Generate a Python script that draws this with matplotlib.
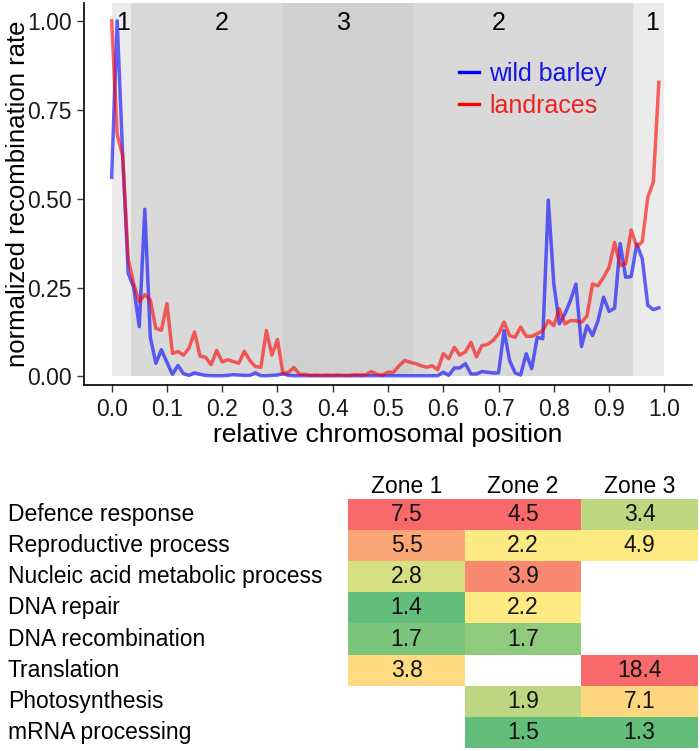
import numpy as np
import matplotlib
matplotlib.use("Agg")
import matplotlib.pyplot as plt
from matplotlib.colors import LinearSegmentedColormap, TwoSlopeNorm
from matplotlib.transforms import blended_transform_factory

plt.rcParams['font.family'] = ['Liberation Sans', 'DejaVu Sans']

# ---------------- data ----------------
position = np.arange(100) / 100.0

wild_barley = [0.56, 1.00, 0.62, 0.29, 0.25, 0.14, 0.47, 0.11, 0.037, 0.075,
               0.04, 0.006, 0.031, 0.008, 0.003, 0.01, 0.006, 0.003, 0.002, 0.002,
               0.002, 0.003, 0.005, 0.004, 0.003, 0.003, 0.01, 0.002, 0.002, 0.003,
               0.004, 0.008, 0.003, 0.002, 0.002, 0.002, 0.002, 0.002, 0.002, 0.002,
               0.002, 0.002, 0.002, 0.002, 0.002, 0.002, 0.002, 0.002, 0.002, 0.002,
               0.002, 0.002, 0.002, 0.002, 0.002, 0.002, 0.002, 0.002, 0.002, 0.002,
               0.012, 0.003, 0.024, 0.024, 0.036, 0.007, 0.007, 0.014, 0.012, 0.01,
               0.01, 0.129, 0.045, 0.01, 0.004, 0.064, 0.022, 0.11, 0.106, 0.496,
               0.26, 0.148, 0.176, 0.213, 0.26, 0.084, 0.143, 0.115, 0.157, 0.223,
               0.183, 0.192, 0.374, 0.279, 0.281, 0.372, 0.331, 0.2, 0.188, 0.193]

landraces = [1.00, 0.68, 0.62, 0.33, 0.26, 0.21, 0.23, 0.215, 0.135, 0.13,
             0.205, 0.065, 0.07, 0.06, 0.08, 0.125, 0.057, 0.054, 0.033, 0.073,
             0.041, 0.047, 0.042, 0.037, 0.071, 0.045, 0.028, 0.026, 0.129, 0.06,
             0.104, 0.008, 0.012, 0.025, 0.006, 0.006, 0.003, 0.004, 0.003, 0.004,
             0.003, 0.004, 0.003, 0.003, 0.005, 0.004, 0.005, 0.014, 0.006, 0.004,
             0.012, 0.012, 0.03, 0.045, 0.04, 0.036, 0.03, 0.026, 0.03, 0.019,
             0.064, 0.05, 0.082, 0.06, 0.069, 0.096, 0.055, 0.087, 0.09, 0.101,
             0.12, 0.153, 0.115, 0.11, 0.139, 0.113, 0.113, 0.12, 0.129, 0.157,
             0.143, 0.19, 0.148, 0.157, 0.157, 0.152, 0.17, 0.26, 0.255, 0.279,
             0.307, 0.377, 0.312, 0.317, 0.412, 0.365, 0.379, 0.504, 0.546, 0.827]

zone_starts = [0.0, 0.035, 0.31, 0.545, 0.943]
zone_ends = [0.035, 0.31, 0.545, 0.943, 1.0]
zone_ids = ["1", "2", "3", "2", "1"]
zone_label_x = [0.02, 0.20, 0.42, 0.70, 0.978]

x_ticks = [0.0, 0.1, 0.2, 0.3, 0.4, 0.5, 0.6, 0.7, 0.8, 0.9, 1.0]
y_ticks = [0.0, 0.25, 0.5, 0.75, 1.0]

terms = ["Defence response", "Reproductive process", "Nucleic acid metabolic process",
         "DNA repair", "DNA recombination", "Translation", "Photosynthesis",
         "mRNA processing"]
zone_names = ["Zone 1", "Zone 2", "Zone 3"]
nan = np.nan
zone1 = [7.5, 5.5, 2.8, 1.4, 1.7, 3.8, nan, nan]
zone2 = [4.5, 2.2, 3.9, 2.2, 1.7, nan, 1.9, 1.5]
zone3 = [3.4, 4.9, nan, nan, nan, 18.4, 7.1, 1.3]

# ---------------- figure ----------------
W, H = 700, 751
fig = plt.figure(figsize=(W / 100, H / 100), dpi=100)

# line plot
ax = fig.add_axes([84 / W, 1 - 385 / H, (692 - 84) / W, (385 - 3) / H])
ylo, yhi = -0.024, 1.05
ax.set_xlim(-0.05, 1.05)
ax.set_ylim(ylo, yhi)

zone_colors = {"1": "#EBEBEB", "2": "#D9D9D9", "3": "#D0D0D0"}
for s, e, z in zip(zone_starts, zone_ends, zone_ids):
    ax.axvspan(s, e, ymin=(0 - ylo) / (yhi - ylo), ymax=1,
               color=zone_colors[z], lw=0, zorder=0)
for xl, z in zip(zone_label_x, zone_ids):
    ax.text(xl, 0.995, z, ha='center', va='center', fontsize=18, color='black', zorder=3)

ax.plot(position, wild_barley, color='blue', alpha=0.6, lw=2.5, zorder=2)
ax.plot(position, landraces, color='red', alpha=0.6, lw=2.5, zorder=2)

# legend (keys drawn without transparency)
h1, = ax.plot([], [], color='blue', lw=2.4, label='wild barley')
h2, = ax.plot([], [], color='red', lw=2.4, label='landraces')
leg = ax.legend(handles=[h1, h2], loc='upper left', bbox_to_anchor=(0.617, 0.845),
                frameon=False, fontsize=18, handlelength=0.8, handletextpad=0.4,
                labelspacing=0.3, borderpad=0, borderaxespad=0,
                labelcolor=['#1515E6', '#EE2222'])

for sp in ['top', 'right']:
    ax.spines[sp].set_visible(False)
for sp in ['left', 'bottom']:
    ax.spines[sp].set_linewidth(1.2)
    ax.spines[sp].set_color('black')
ax.set_xticks(x_ticks)
ax.set_xticklabels([f"{t:.1f}" for t in x_ticks])
ax.set_yticks(y_ticks)
ax.set_yticklabels([f"{t:.2f}" for t in y_ticks])
ax.tick_params(length=5, width=1, color='#333333', labelsize=16.5, labelcolor='#1a1a1a', pad=4)
ax.set_xlabel("relative chromosomal position", fontsize=19, labelpad=2)
ax.set_ylabel("normalized recombination rate", fontsize=18.5)
ax.yaxis.set_label_coords(-0.088, 0.5)

# heat table
cmap = LinearSegmentedColormap.from_list('excel3', ['#63BE7B', '#FFEB84', '#F8696B'])
cols = [np.array(zone1, float), np.array(zone2, float), np.array(zone3, float)]
nrow = len(terms)
rgba = np.ones((nrow, 3, 4))
for j, c in enumerate(cols):
    v = c[~np.isnan(c)]
    norm = TwoSlopeNorm(vmin=v.min(), vcenter=np.median(v), vmax=v.max())
    for i in range(nrow):
        if not np.isnan(c[i]):
            rgba[i, j] = cmap(norm(c[i]))

ax2 = fig.add_axes([348.3 / W, 1 - 747.7 / H, 349.5 / W, (747.7 - 499.3) / H])
ax2.imshow(rgba, extent=(0, 3, nrow, 0), aspect='auto', interpolation='nearest')
ax2.set_xlim(0, 3)
ax2.set_ylim(nrow, 0)
ax2.axis('off')
for j, c in enumerate(cols):
    ax2.text(j + 0.5, -0.4, zone_names[j], ha='center', va='center', fontsize=16.5,
             clip_on=False)
    for i in range(nrow):
        if not np.isnan(c[i]):
            ax2.text(j + 0.5, i + 0.5, f"{c[i]:.1f}", ha='center', va='center',
                     fontsize=16.5, color='#111111')
tr = blended_transform_factory(fig.transFigure, ax2.transData)
for i, t in enumerate(terms):
    ax2.text(8 / W, i + 0.5, t, transform=tr, ha='left', va='center', fontsize=16.5,
             clip_on=False)

fig.savefig("out.png", dpi=100)
